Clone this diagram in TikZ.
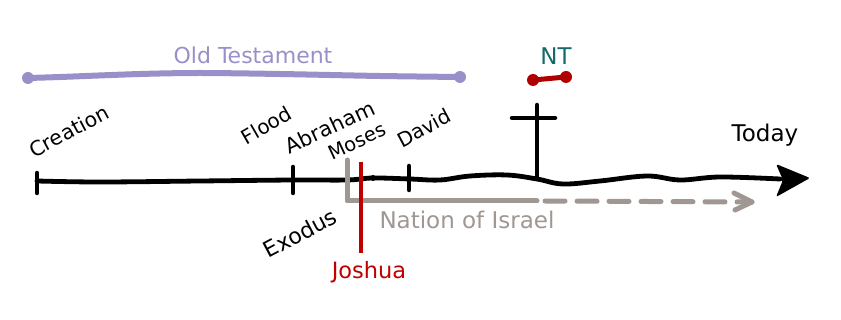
\documentclass[tikz,border=0pt]{standalone}
\usepackage{fontspec}
\setmainfont{DejaVu Sans}
\usetikzlibrary{arrows.meta}
\definecolor{otpurple}{HTML}{9A8FC8}
\definecolor{ntred}{HTML}{B00000}
\definecolor{jred}{HTML}{C00000}
\definecolor{ngray}{HTML}{A09792}
\definecolor{ntteal}{HTML}{16696B}
\begin{document}
\begin{tikzpicture}[x=1pt,y=-1pt,
  lbl/.style={font=\fontsize{#1}{#1}\selectfont, inner sep=0pt},
  lbl/.default=20,
  tl/.style={line width=4.8pt, line cap=round, line join=round},
  tickmark/.style={line width=4.5pt, line cap=round},
  grayline/.style={ngray, line width=5pt, line cap=round, line join=round}]
\useasboundingbox (0,0) rectangle (841,320);

% Old Testament bar
\coordinate (ot1) at (28,78);
\coordinate (ot2) at (460,77);
\draw[otpurple, line width=6pt, line cap=round]
  plot[smooth] coordinates {(ot1) (60,77) (140,74) (200,73) (280,74) (380,76) (ot2)};
\fill[otpurple] (ot1) circle (6) (ot2) circle (6);
\node[lbl=22, otpurple] (ot) at (253,55) {Old Testament};

% New Testament bar
\coordinate (nt1) at (533,80);
\coordinate (nt2) at (566,77);
\draw[ntred, line width=5pt, line cap=round] (nt1) -- (nt2);
\fill[ntred] (nt1) circle (6) (nt2) circle (6);
\node[lbl=23, ntteal] (nt) at (556,56) {NT};

% main timeline
\coordinate (start) at (37,181);
\coordinate (tip) at (810,178);
\draw[tl] plot[smooth, tension=0.6] coordinates {(start) (100,182) (200,181) (293,180) (347,180)
  (373,178) (410,179) (440,180) (470,176) (507,175) (537,179) (563,184) (600,181)
  (647,176) (680,180) (720,177) (780,179)};
\fill[rounded corners=2pt] (776,164) -- (tip) -- (776,197) -- (783,180) -- cycle;

% ticks
\draw[tickmark] (37,173) -- (37,193);
\draw[tickmark] (293,167) -- (293,193);
\draw[tickmark] (409,166) -- (409,190);
\fill (373,178) circle (3);

% cross
\coordinate (crosstop) at (537,105);
\coordinate (crossfoot) at (537,179);
\draw[tickmark] (crosstop) -- (crossfoot);
\draw[tickmark] (512,118) -- (555,118);

% Nation of Israel
\coordinate (ex) at (347,160);
\coordinate (excorner) at (347,201);
\coordinate (exsolid) at (537,201);
\coordinate (israeltip) at (752,202);
\draw[grayline] (ex) -- (excorner) -- (exsolid);
\draw[grayline, dash pattern=on 20pt off 12pt] (545,201) -- (israeltip);
\draw[grayline] (734,193) -- (israeltip) -- (735,210);

% Joshua
\coordinate (jtop) at (361,162);
\coordinate (jbot) at (361,253);
\draw[jred, line width=4.5pt] (jtop) -- (jbot);

% labels
\node[lbl=20.5, rotate=28] (creation) at (69,131) {Creation};
\node[lbl=20, rotate=30] (flood) at (266,125) {Flood};
\node[lbl=21, rotate=25] (abraham) at (330,127) {Abraham};
\node[lbl=19.5, rotate=25] (moses) at (357,141) {Moses};
\node[lbl=20, rotate=28] (david) at (424,128) {David};
\node[lbl=23] (today) at (765,135) {Today};
\node[lbl=22, rotate=28] (exodus) at (300,233) {Exodus};
\node[lbl=23, ngray] (israel) at (467,220) {Nation of Israel};
\node[lbl=22.5, jred] (joshua) at (369,272) {Joshua};
\end{tikzpicture}
\end{document}
